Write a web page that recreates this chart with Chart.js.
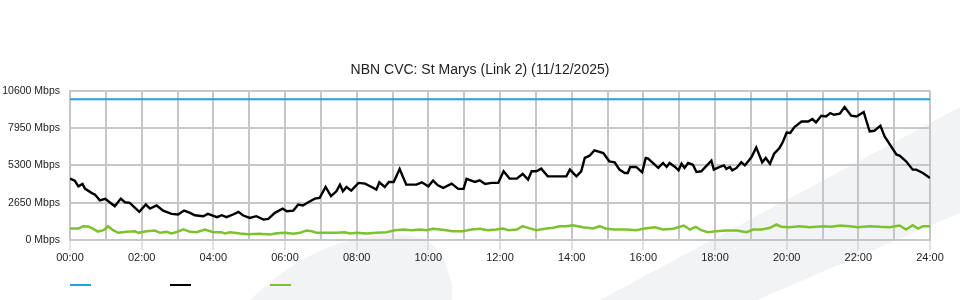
<!DOCTYPE html>
<html>
<head>
<meta charset="utf-8">
<script src="https://cdn.jsdelivr.net/npm/chart.js@4/dist/chart.umd.min.js"></script>
<style>
html,body{margin:0;padding:0;background:#fff;}
#wrap{position:relative;width:960px;height:300px;overflow:hidden;
background-image:url("data:image/svg+xml;utf8,<svg xmlns='http://www.w3.org/2000/svg' width='960' height='300'><polygon points='600,300 960,107 960,213 757,300' fill='%23f2f3f5'/><path d='M250,300 C290,262 330,239 385,235 C420,233 437,242 445,262 L452,285 L452,300 Z' fill='%23f2f3f5'/></svg>");
background-repeat:no-repeat;}
canvas{display:block;}
</style>
</head>
<body>
<div id="wrap"><canvas id="c" width="960" height="300"></canvas></div>
<script>
// ---- data ----
const chartTitle = 'NBN CVC: St Marys (Link 2) (11/12/2025)';
const xTickLabels = ['00:00','02:00','04:00','06:00','08:00','10:00','12:00','14:00','16:00','18:00','20:00','22:00','24:00'];
const yTickValues = [0, 2650, 5300, 7950, 10600];
const capacityMinutes = [0, 1440];
const capacityValues = [10000, 10000];
const downMinutes = [0,8,14,21,25,36,42,50,59,75,85,92,100,116,127,134,145,156,170,181,191,201,209,223,231,246,254,262,273,282,290,301,312,324,332,343,356,363,374,382,390,399,410,418,428,437,446,452,457,463,471,483,494,505,513,518,527,534,542,552,563,580,589,600,608,616,625,639,650,659,664,678,686,695,706,717,726,736,748,758,767,773,781,789,800,817,831,837,848,856,862,870,878,893,903,912,920,929,934,938,948,958,964,968,985,993,999,1004,1013,1019,1024,1029,1035,1043,1049,1057,1074,1078,1088,1095,1099,1105,1109,1116,1124,1130,1141,1149,1159,1165,1172,1179,1188,1194,1200,1206,1213,1225,1236,1243,1249,1258,1266,1273,1279,1289,1297,1308,1317,1329,1339,1347,1357,1364,1384,1389,1400,1411,1417,1428,1440];
const downValues = [4360,4220,3810,3985,3650,3350,3225,2820,2920,2400,2940,2680,2640,2000,2520,2230,2450,2090,1860,1810,2090,1930,1760,1690,1860,1620,1760,1620,1810,2000,1740,1570,1690,1450,1500,1930,2230,2040,2090,2520,2450,2680,2940,2990,3770,3110,3460,3935,3460,3770,3510,4055,4005,3770,3580,4100,3770,4125,4125,5050,3935,3935,4100,3810,4220,3885,3700,4005,3630,3630,4340,4125,4240,3985,4055,4055,4880,4360,4360,4690,4290,4880,4880,5070,4520,4520,4520,5000,4520,4880,5830,5990,6370,6180,5590,5520,5000,4760,4760,5190,5190,4810,5830,5780,5120,5470,5190,5470,5190,4950,5420,5120,5470,5350,4830,4880,5640,5000,5190,5300,5050,5190,4950,5120,5520,5300,5870,6580,5520,5830,5420,6130,6540,7000,7640,7600,8030,8420,8420,8590,8350,8830,8780,9020,8900,8970,9440,8830,8780,9090,7710,7760,8120,7360,6060,5990,5590,5000,5000,4760,4410];
const upMinutes = [0,14,22,31,39,47,56,64,72,81,95,109,114,128,142,151,162,170,179,190,201,212,226,240,254,259,268,285,298,318,335,346,360,374,385,396,405,413,430,446,460,469,480,497,513,530,544,558,572,586,597,608,619,630,641,658,672,686,700,714,725,734,748,758,767,781,795,809,820,831,842,859,876,887,898,912,932,948,962,979,993,1010,1028,1038,1048,1057,1068,1082,1099,1116,1133,1144,1158,1172,1183,1191,1205,1222,1238,1261,1275,1289,1305,1319,1339,1356,1372,1389,1400,1411,1420,1428,1440];
const upValues = [815,815,980,960,795,600,695,980,695,510,580,625,510,625,670,510,580,460,580,765,580,555,745,555,555,460,555,460,410,440,390,480,510,440,510,670,625,510,510,510,555,460,510,460,510,555,695,745,695,745,695,795,745,695,625,625,745,795,695,745,815,695,745,980,865,695,795,865,980,980,1050,910,815,980,795,745,745,695,815,910,745,795,1030,745,935,695,555,625,670,670,555,745,745,865,1100,935,910,980,910,980,935,1030,980,910,980,935,910,1030,745,1050,815,980,980];

const colors = ['#1ea3e2', '#000000', '#7dc22c'];
const gridColor = '#c6c6c6';
const fontFamily = "'Liberation Sans', Arial, sans-serif";
const toPoints = (xs, ys) => xs.map((x, i) => ({x: x, y: ys[i]}));

const lineLegend = {
  id: 'lineLegend',
  afterDraw(chart) {
    const ctx = chart.ctx, a = chart.chartArea;
    ctx.save();
    chart.data.datasets.forEach((ds, i) => {
      const x0 = a.left + i * 100;
      ctx.strokeStyle = ds.borderColor;
      ctx.lineWidth = 2;
      ctx.beginPath();
      ctx.moveTo(x0, chart.height - 15);
      ctx.lineTo(x0 + 21, chart.height - 15);
      ctx.stroke();
    });
    ctx.restore();
  }
};

new Chart(document.getElementById('c'), {
  type: 'line',
  data: {
    datasets: [
      {label: '', data: toPoints(capacityMinutes, capacityValues), borderColor: colors[0], borderWidth: 2, pointRadius: 0},
      {label: '', data: toPoints(downMinutes, downValues), borderColor: colors[1], borderWidth: 2.4, pointRadius: 0},
      {label: '', data: toPoints(upMinutes, upValues), borderColor: colors[2], borderWidth: 2.5, pointRadius: 0}
    ]
  },
  options: {
    responsive: false,
    animation: false,
    layout: {padding: 0},
    plugins: {
      legend: {display: false},
      tooltip: {enabled: false},
      title: {
        display: true,
        text: chartTitle,
        color: '#222',
        font: {family: fontFamily, size: 14, weight: 'normal'},
        padding: {top: 62, bottom: 12}
      }
    },
    scales: {
      x: {
        type: 'linear',
        min: 0, max: 1440,
        afterFit: (s) => { s.height = 60; },
        border: {color: gridColor, width: 2},
        grid: {
          color: gridColor, lineWidth: 2, tickLength: 10,
          tickColor: (c) => (c.tick && c.tick.value % 120 === 0) ? gridColor : 'rgba(0,0,0,0)',
          tickWidth: 1
        },
        ticks: {
          stepSize: 60, autoSkip: false, maxRotation: 0, padding: 1,
          color: '#222',
          font: {family: fontFamily, size: 11},
          callback: (v) => v % 120 === 0 ? xTickLabels[v / 120] : ''
        }
      },
      y: {
        min: yTickValues[0], max: yTickValues[yTickValues.length - 1],
        afterFit: (s) => { s.width = 70; },
        afterBuildTicks: (s) => { s.ticks = yTickValues.map(v => ({value: v})); },
        border: {color: gridColor, width: 2},
        grid: {color: gridColor, lineWidth: 2, drawTicks: false},
        ticks: {
          padding: 10,
          color: '#222',
          font: {family: fontFamily, size: 10.5},
          callback: (v) => v + ' Mbps'
        }
      },
      yRightSpace: {
        position: 'right',
        display: true,
        afterFit: (s) => { s.width = 30; },
        grid: {display: false, drawTicks: false},
        border: {display: false},
        ticks: {display: false}
      }
    }
  },
  plugins: [lineLegend]
});
</script>
</body>
</html>
